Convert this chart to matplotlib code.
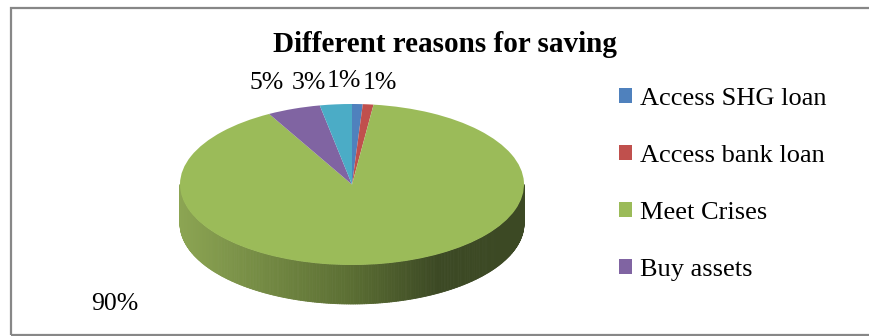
import numpy as np
import matplotlib
matplotlib.use("Agg")
import matplotlib.pyplot as plt
from matplotlib.patches import Patch, Rectangle
from matplotlib.collections import PolyCollection
from matplotlib.colors import to_rgb

# ---- data ----
categories = ["Access SHG loan", "Access bank loan", "Meet Crises", "Buy assets", "Others"]
values = [1, 1, 90, 5, 3]
pct_labels = ["1%", "1%", "90%", "5%", "3%"]
colors = ["#4f81bd", "#c0504d", "#9bbb59", "#8064a2", "#4bacc6"]
legend_count = 4
title = "Different reasons for saving"

W, H = 870, 336
fig = plt.figure(figsize=(W / 100, H / 100), dpi=100)
plt.rcParams['font.family'] = ['Liberation Serif', 'DejaVu Serif']

def fx(px):
    return px / W

def fy(py):
    return 1 - py / H

# border
fig.patches.append(Rectangle((fx(11), fy(335)), fx(875) - fx(11), fy(8) - fy(335),
                             transform=fig.transFigure, fill=False,
                             edgecolor="#878787", linewidth=1.6, zorder=0))

# pie axes: unit circle -> ellipse (cx=352, cy=184.5, a=172, b=80.5 px)
cx, cy, a, b = 352, 184.5, 172, 80.5
xlo, xhi = -1.05, 1.05
ylo, yhi = -1.65, 1.1
left_px = cx + xlo * a
right_px = cx + xhi * a
top_px = cy - yhi * b
bot_px = cy - ylo * b
ax = fig.add_axes([fx(left_px), fy(bot_px), (right_px - left_px) / W, (bot_px - top_px) / H])

wedges, _ = ax.pie(values, colors=colors, startangle=90, counterclock=False,
                   radius=1.0, center=(0, 0),
                   wedgeprops=dict(linewidth=0, antialiased=True))
for w in wedges:
    w.set_zorder(3)
ax.set_aspect('auto')
ax.set_xlim(xlo, xhi)
ax.set_ylim(ylo, yhi)
ax.axis('off')

# side of the 3D pie (front half), shaded gradient
thick = 39 / b
n = 300
th = np.linspace(np.pi, 2 * np.pi, n + 1)
light = np.array(to_rgb("#8ca553"))
mid = np.array(to_rgb("#5b6e33"))
dark = np.array(to_rgb("#3c4924"))
polys, cols = [], []
for i in range(n):
    t0, t1 = th[i], th[i + 1]
    x0, x1 = np.cos(t0), np.cos(t1)
    y0, y1 = np.sin(t0), np.sin(t1)
    polys.append([(x0, y0), (x1, y1), (x1, y1 - thick), (x0, y0 - thick)])
    xm = 0.5 * (x0 + x1)
    if xm < 0:
        f = (xm + 1)
        c = light * (1 - f) + mid * f
    elif xm < 0.5:
        f = xm / 0.5
        c = mid * (1 - f) + dark * f
    else:
        c = dark
    cols.append(c)
pc = PolyCollection(polys, facecolors=cols, edgecolors=cols, linewidths=0.6, zorder=2)
ax.add_collection(pc)

# percentage labels (outside-end style)
label_pos = {0: (344, 81), 1: (380, 83), 2: (115, 304), 3: (267, 83), 4: (309, 83)}
for i, lab in enumerate(pct_labels):
    px, py = label_pos[i]
    fig.text(fx(px), fy(py), lab, ha='center', va='center', fontsize=18.5, color='black')

# title
fig.text(fx(445), fy(52), title, ha='center', va='baseline', fontsize=21,
         fontweight='bold', color='black')

# legend (first four entries visible)
handles = [Patch(facecolor=colors[i], edgecolor='none') for i in range(legend_count)]
leg = fig.legend(handles, categories[:legend_count], loc='upper left',
                 bbox_to_anchor=(fx(619), fy(88)), frameon=False, fontsize=19,
                 handlelength=0.5, handleheight=0.5, handletextpad=0.3,
                 labelspacing=1.33, borderaxespad=0, borderpad=0)

fig.savefig("out.png", dpi=100)
